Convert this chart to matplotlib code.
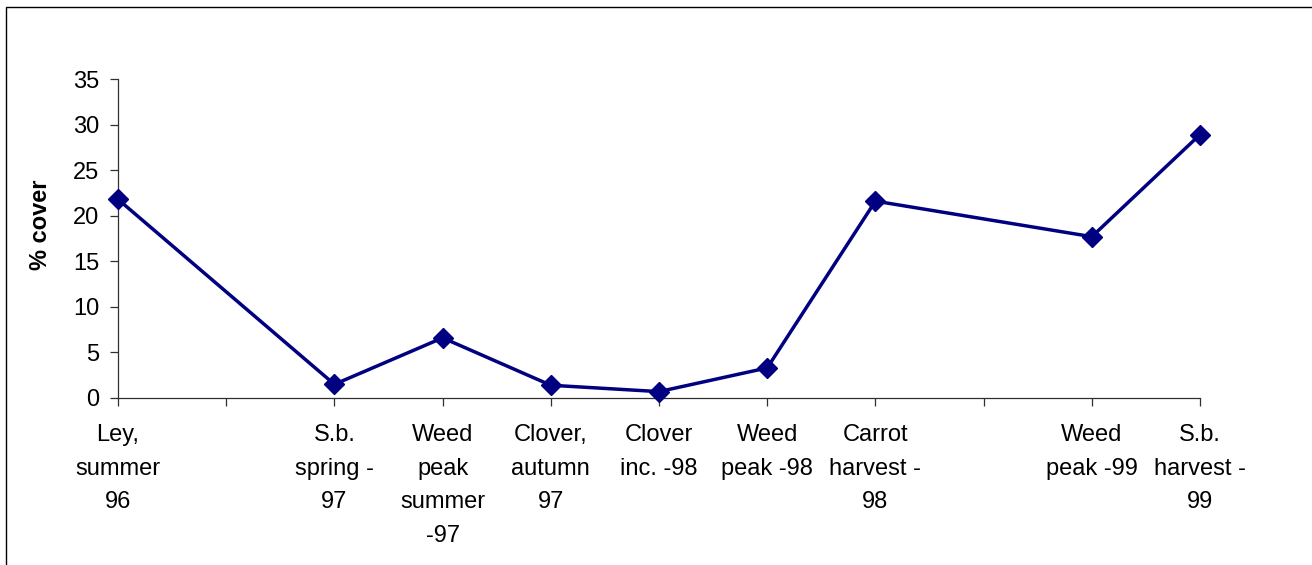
import matplotlib
matplotlib.use("Agg")
import matplotlib.pyplot as plt
from matplotlib.patches import Rectangle
import numpy as np

categories = ["Ley,\nsummer\n96", "", "S.b.\nspring -\n97", "Weed\npeak\nsummer\n-97",
              "Clover,\nautumn\n97", "Clover\ninc. -98", "Weed\npeak -98",
              "Carrot\nharvest -\n98", "", "Weed\npeak -99", "S.b.\nharvest -\n99"]
cover = [21.8, None, 1.5, 6.6, 1.4, 0.7, 3.3, 21.6, None, 17.7, 28.9]
yticks = [0, 5, 10, 15, 20, 25, 30, 35]

plt.rcParams['font.family'] = ['Liberation Sans', 'DejaVu Sans']

fig = plt.figure(figsize=(13.12, 5.65), dpi=100)
ax = fig.add_axes([118/1312, (565-398)/565, (1200-118)/1312, (398-79)/565])

xs = [i for i, v in enumerate(cover) if v is not None]
ys = [v for v in cover if v is not None]
ax.plot(xs, ys, color='#000080', lw=2.5, marker='D', markersize=10.5,
        markerfacecolor='#000080', markeredgecolor='#000080', clip_on=False, zorder=3)

ax.set_xlim(0, len(categories) - 1)
ax.set_ylim(0, 35)
ax.set_yticks(yticks)
ax.set_xticks(range(len(categories)))
ax.set_xticklabels(categories, linespacing=1.7, va='top', ha='center')
ax.tick_params(axis='both', direction='out', length=5.5, width=0.9, color='#303030',
               labelsize=17)
ax.tick_params(axis='x', pad=13)
ax.tick_params(axis='y', pad=8)
for s in ['top', 'right']:
    ax.spines[s].set_visible(False)
for s in ['left', 'bottom']:
    ax.spines[s].set_color('#303030')
    ax.spines[s].set_linewidth(0.9)

ax.set_ylabel('% cover', fontsize=17, fontweight='bold')
ax.yaxis.set_label_coords(-0.061, 0.542)

# outer chart-area frame (cut off at right and bottom)
fig.patches.append(Rectangle((6/1312, -0.05), 1.2, 1 - 6.5/565 + 0.05,
                             transform=fig.transFigure, fill=False,
                             edgecolor='black', lw=1.0, clip_on=False))

fig.savefig('out.png', dpi=100)
